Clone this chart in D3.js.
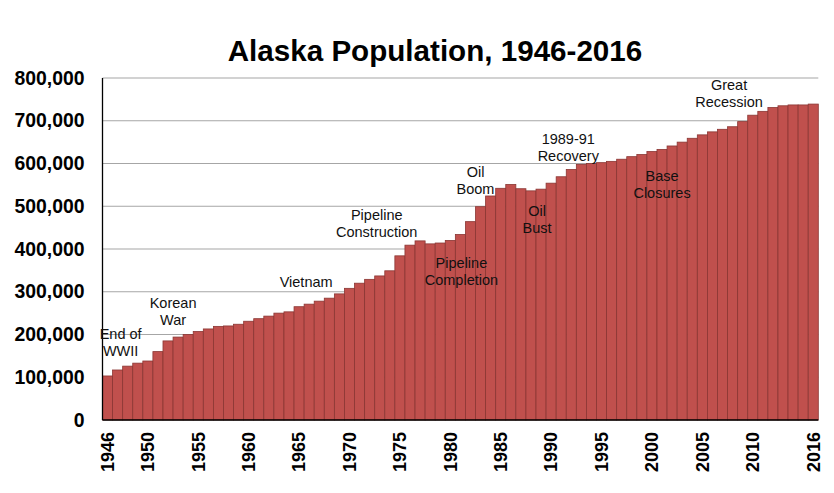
<!DOCTYPE html>
<html lang="en">
    <head>
        <meta charset="utf-8">
        <title>Alaska Population, 1946-2016</title>
        <script type="text/javascript" src="https://cdnjs.cloudflare.com/ajax/libs/d3/7.8.5/d3.min.js"></script>
        <style>
            body { margin: 0; background: #fff; }
            text { font-family: "Liberation Sans", Arial, sans-serif; }
            .title { font-size: 29.6px; font-weight: bold; }
            .ylab text { font-size: 19.4px; font-weight: bold; fill: #000; }
            .xlab text { font-size: 18px; font-weight: bold; fill: #000; }
            .note { font-size: 14.5px; fill: #111; }
        </style>
    </head>
    <body>
        <svg width="834" height="493"></svg>
        <script type="text/javascript">
            // population by year
            var years = d3.range(1946, 2017);
            var population = [
                103000, 117000, 126000, 133000, 138000, 160000, 185000, 194000, 200000, 207000,
                213000, 219000, 220000, 224000, 231000, 237000, 243000, 250000, 253000, 265000,
                271000, 278000, 285000, 295000, 308000, 320000, 329000, 337000, 349000, 384000,
                409000, 419000, 412000, 414000, 420000, 434000, 464000, 499000, 524000, 542000,
                551000, 541000, 536000, 540000, 554000, 569000, 586000, 598000, 600000, 602000,
                605000, 610000, 616000, 621000, 628000, 633000, 641000, 650000, 659000, 667000,
                674000, 680000, 686000, 698000, 713000, 722000, 731000, 735000, 737000, 737000,
                739000
            ];
            var yTicks = d3.range(0, 800001, 100000);
            var xTicks = [1946, 1950, 1955, 1960, 1965, 1970, 1975, 1980, 1985, 1990,
                          1995, 2000, 2005, 2010, 2016];

            // event labels (year, population level of the first line)
            var noteText = [["End of", "WWII"], ["Korean", "War"], ["Vietnam"],
                            ["Pipeline", "Construction"], ["Pipeline", "Completion"],
                            ["Oil", "Boom"], ["Oil", "Bust"], ["1989-91", "Recovery"],
                            ["Base", "Closures"], ["Great", "Recession"]];
            var noteYear = [1947.3, 1952.5, 1965.7, 1972.7, 1981.1, 1982.5, 1988.6, 1991.7, 2001.0, 2007.65];
            var noteLevel = [201000, 274000, 323000, 480000, 367000, 580000, 489000, 657000, 571000, 784000];

            var svg = d3.select("svg");
            var plotLeft = 102.5, plotRight = 818.3, plotTop = 78, plotBottom = 420;

            // scales
            var x = d3.scaleBand()
                .domain(years)
                .range([plotLeft, plotRight])
                .padding(0);

            var y = d3.scaleLinear()
                .domain([0, 800000])
                .range([plotBottom, plotTop]);

            var yearCenter = function(yr) {
                return x(years[0]) + (yr - years[0] + 0.5) * x.step();
            };

            // title
            svg.append("text")
                .attr("class", "title")
                .attr("x", 435)
                .attr("y", 61)
                .attr("text-anchor", "middle")
                .text("Alaska Population, 1946-2016");

            // gridlines
            svg.append("g")
                .selectAll("line")
                .data(yTicks.filter(function(d) { return d > 0; }))
                .enter()
                .append("line")
                .attr("x1", plotLeft)
                .attr("x2", plotRight)
                .attr("y1", function(d) { return y(d); })
                .attr("y2", function(d) { return y(d); })
                .attr("stroke", "#a6a6a6")
                .attr("stroke-width", 1.2);

            // bars
            svg.append("g")
                .selectAll(".bar")
                .data(population)
                .enter()
                .append("rect")
                .attr("class", "bar")
                .attr("x", function(d, i) { return x(years[i]); })
                .attr("width", x.bandwidth())
                .attr("y", function(d) { return y(d); })
                .attr("height", function(d) { return plotBottom - y(d); })
                .attr("fill", "#c0504d")
                .attr("stroke", "#8a3633")
                .attr("stroke-width", 0.8);

            // y axis
            var yAxis = d3.axisLeft(y)
                .tickValues(yTicks)
                .tickFormat(d3.format(","))
                .tickSize(0)
                .tickPadding(18);

            svg.append("g")
                .attr("class", "ylab")
                .attr("transform", "translate(" + plotLeft + ",0)")
                .call(yAxis)
                .call(function(g) { g.select(".domain").remove(); });

            // x axis labels
            var xAxis = d3.axisBottom(x)
                .tickValues(xTicks)
                .tickSize(0);

            svg.append("g")
                .attr("class", "xlab")
                .attr("transform", "translate(0," + plotBottom + ")")
                .call(xAxis)
                .call(function(g) { g.select(".domain").remove(); })
                .selectAll("text")
                    .attr("transform", "rotate(-90)")
                    .attr("x", -12)
                    .attr("y", 0)
                    .attr("dy", "0.35em")
                    .style("text-anchor", "end");

            // axis lines
            svg.append("line")
                .attr("x1", plotLeft).attr("x2", plotLeft)
                .attr("y1", plotTop).attr("y2", plotBottom)
                .attr("stroke", "#000").attr("stroke-width", 1.3);
            svg.append("line")
                .attr("x1", plotLeft).attr("x2", plotRight)
                .attr("y1", plotBottom).attr("y2", plotBottom)
                .attr("stroke", "#000").attr("stroke-width", 1.3);

            // event notes
            var notes = svg.append("g")
                .selectAll("text")
                .data(noteText)
                .enter()
                .append("text")
                .attr("class", "note")
                .attr("text-anchor", "middle")
                .attr("x", function(d, i) { return yearCenter(noteYear[i]); })
                .attr("y", function(d, i) { return y(noteLevel[i]); });

            notes.selectAll("tspan")
                .data(function(d) { return d; })
                .enter()
                .append("tspan")
                .attr("x", function() { return d3.select(this.parentNode).attr("x"); })
                .attr("dy", function(d, i) { return i === 0 ? "0.35em" : 16.7; })
                .text(function(d) { return d; });
        </script>
    </body>
</html>
